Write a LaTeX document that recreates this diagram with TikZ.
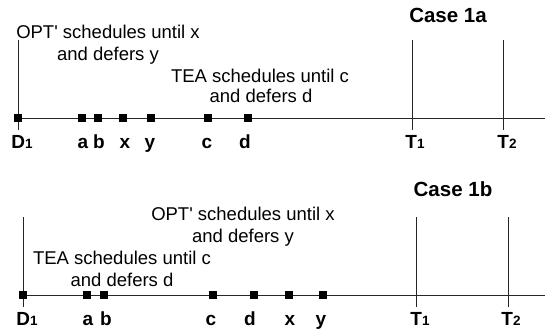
\documentclass[tikz,border=0pt]{standalone}
\usepackage{fontspec}
\setmainfont{Liberation Sans}[Ligatures=TeXOff]
\begin{document}
\begin{tikzpicture}[x=1pt,y=-1pt,
  txt/.style={anchor=base,inner sep=0pt,font=\fontsize{18.5}{21}\selectfont},
  lbl/.style={anchor=base,inner sep=0pt,font=\bfseries\fontsize{19}{21}\selectfont},
  cas/.style={anchor=base,inner sep=0pt,font=\bfseries\fontsize{20.5}{22}\selectfont},
  sq/.style={fill=black,minimum size=8pt,inner sep=0pt},
  ln/.style={line width=1pt,draw=black!85}]
\useasboundingbox (0,0) rectangle (545,333);
\newcommand{\sub}[1]{{\fontsize{13.5}{14}\selectfont #1}}
% ---------- Case 1a ----------
\coordinate (tlstart) at (14,118);
\coordinate (tlend) at (545,118);
\draw[ln] (tlstart) -- (tlend);
\coordinate (tD1top) at (18,40); \coordinate (tD1bot) at (18,130);
\draw[ln] (tD1top) -- (tD1bot);
\coordinate (tT1top) at (412,40); \coordinate (tT1bot) at (412,130);
\draw[ln] (tT1top) -- (tT1bot);
\coordinate (tT2top) at (503,40); \coordinate (tT2bot) at (503,130);
\draw[ln] (tT2top) -- (tT2bot);
\node[sq] (tsD) at (18,118) {};
\node[sq] (tsa) at (82,118) {};
\node[sq] (tsb) at (98,118) {};
\node[sq] (tsx) at (123,118) {};
\node[sq] (tsy) at (151,118) {};
\node[sq] (tsc) at (208,118) {};
\node[sq] (tsd) at (248,118) {};
\node[lbl] (tlD) at (22,148) {D\sub{1}};
\node[lbl] (tla) at (83,148) {a};
\node[lbl] (tlb) at (99,148) {b};
\node[lbl] (tlx) at (125,148) {x};
\node[lbl] (tly) at (150,148) {y};
\node[lbl] (tlc) at (207,148) {c};
\node[lbl] (tld) at (245,148) {d};
\node[lbl] (tlT1) at (415,148) {T\sub{1}};
\node[lbl] (tlT2) at (507,148) {T\sub{2}};
\node[cas] (tcase) at (448,22) {Case 1a};
\node[txt] (topt1) at (108,38) {OPT' schedules until x};
\node[txt] (topt2) at (108,60) {and defers y};
\node[txt] (ttea1) at (260,82) {TEA schedules until c};
\node[txt] (ttea2) at (261,102) {and defers d};
% ---------- Case 1b ----------
\coordinate (blstart) at (19,295);
\coordinate (blend) at (545,295);
\draw[ln] (blstart) -- (blend);
\coordinate (bD1top) at (23,217); \coordinate (bD1bot) at (23,307);
\draw[ln] (bD1top) -- (bD1bot);
\coordinate (bT1top) at (416,217); \coordinate (bT1bot) at (416,307);
\draw[ln] (bT1top) -- (bT1bot);
\coordinate (bT2top) at (508,217); \coordinate (bT2bot) at (508,307);
\draw[ln] (bT2top) -- (bT2bot);
\node[sq] (bsD) at (23,295) {};
\node[sq] (bsa) at (87,295) {};
\node[sq] (bsb) at (104,295) {};
\node[sq] (bsc) at (213,295) {};
\node[sq] (bsd) at (254,295) {};
\node[sq] (bsx) at (289,295) {};
\node[sq] (bsy) at (323,295) {};
\node[lbl] (blD) at (27,325) {D\sub{1}};
\node[lbl] (bla) at (88,325) {a};
\node[lbl] (blb) at (106,325) {b};
\node[lbl] (blc) at (211,325) {c};
\node[lbl] (bld) at (250,325) {d};
\node[lbl] (blx) at (290,325) {x};
\node[lbl] (bly) at (321,325) {y};
\node[lbl] (blT1) at (420,325) {T\sub{1}};
\node[lbl] (blT2) at (511,325) {T\sub{2}};
\node[cas] (bcase) at (453,196) {Case 1b};
\node[txt] (bopt1) at (243,220) {OPT' schedules until x};
\node[txt] (bopt2) at (243,242) {and defers y};
\node[txt] (btea1) at (122,264) {TEA schedules until c};
\node[txt] (btea2) at (122,286) {and defers d};
\end{tikzpicture}
\end{document}
